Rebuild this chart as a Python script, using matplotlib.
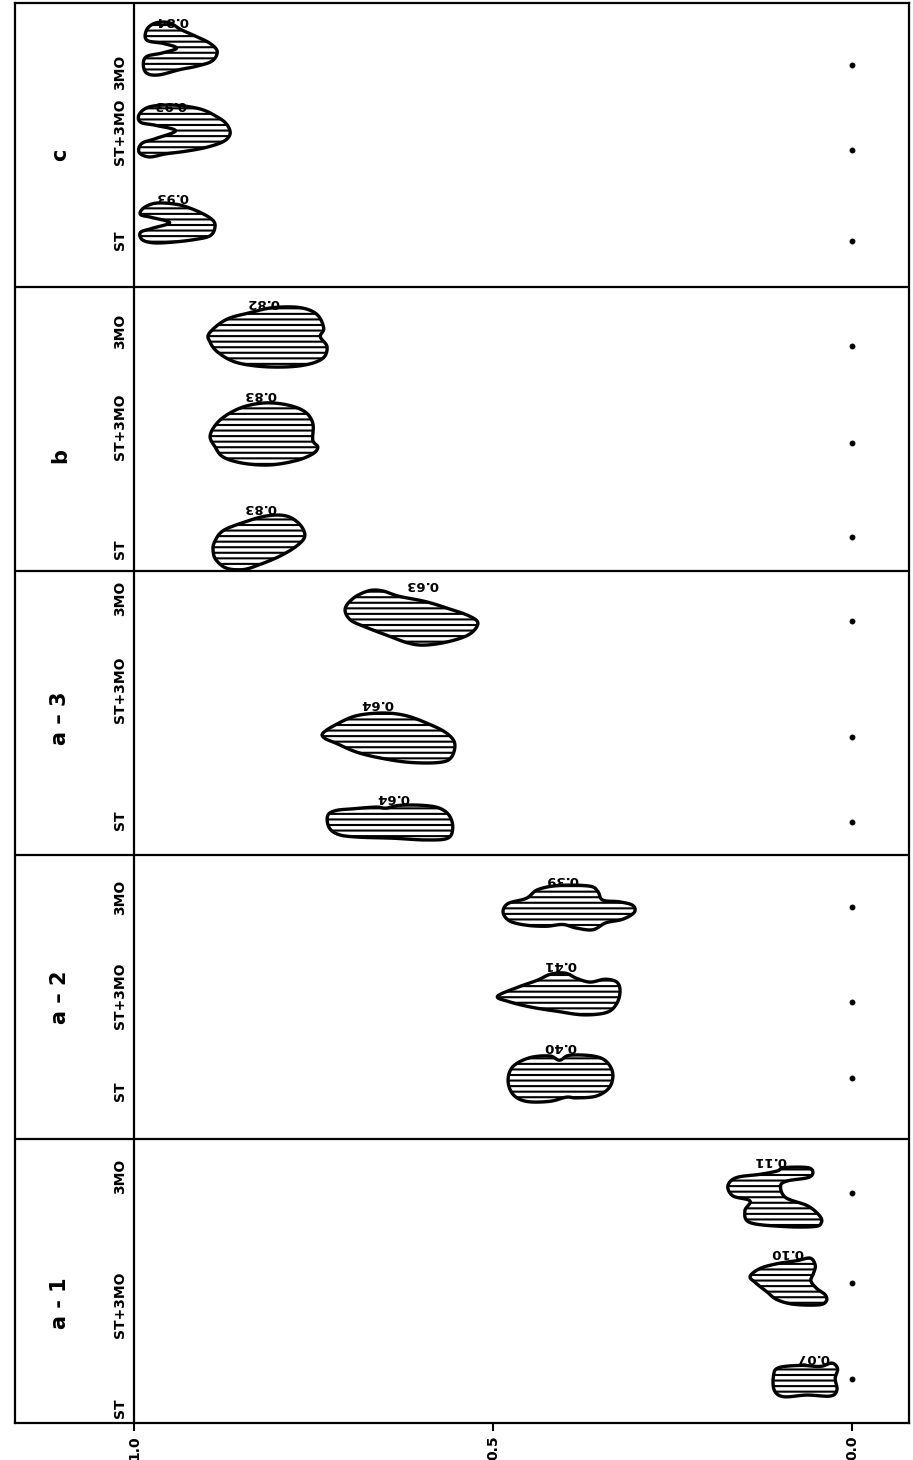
import numpy as np
import matplotlib
matplotlib.use("Agg")
import matplotlib.pyplot as plt

plt.rcParams['font.family'] = ['DejaVu Sans']
plt.rcParams['hatch.linewidth'] = 1.5

# ---------------- data ----------------
panels = ['a - 1', 'a – 2', 'a – 3', 'b', 'c']          # bottom -> top
lanes = ['ST', 'ST+3MO', '3MO']

rf_a1 = [0.07, 0.10, 0.11]
rf_a2 = [0.40, 0.41, 0.39]
rf_a3 = [0.64, 0.64, 0.63]
rf_b = [0.83, 0.83, 0.82]
rf_c = [0.93, 0.93, 0.84]
rf_values = [rf_a1, rf_a2, rf_a3, rf_b, rf_c]

# spot extents: front (high Rf edge), back (low Rf edge)
spot_front = [[0.110, 0.142, 0.173], [0.479, 0.494, 0.486], [0.731, 0.738, 0.706],
              [0.890, 0.894, 0.897], [0.992, 0.994, 0.987]]
spot_back = [[0.020, 0.035, 0.042], [0.333, 0.323, 0.302], [0.556, 0.553, 0.521],
             [0.762, 0.744, 0.731], [0.887, 0.866, 0.884]]
# vertical extents (lane units, panel i spans i..i+1)
spot_top = [[0.211, 0.581, 0.901], [1.296, 1.585, 1.894], [2.176, 2.500, 2.933],
            [3.197, 3.592, 3.930], [4.296, 4.641, 4.933]]
spot_bottom = [[0.092, 0.415, 0.690], [1.130, 1.437, 1.736], [2.053, 2.324, 2.739],
               [3.004, 3.373, 3.718], [4.155, 4.458, 4.746]]

label_rf = [[0.054, 0.090, 0.114], [0.407, 0.407, 0.404], [0.639, 0.662, 0.599],
            [0.825, 0.825, 0.820], [0.947, 0.950, 0.947]]
label_y = [[0.232, 0.602, 0.926], [1.324, 1.613, 1.912], [2.204, 2.532, 2.951],
           [3.222, 3.620, 3.947], [4.320, 4.644, 4.940]]

origin_y = [[0.155, 0.493, 0.810], [1.215, 1.482, 1.817], [2.116, 2.415, 2.824],
            [3.120, 3.451, 3.792], [4.162, 4.482, 4.782]]
lane_label_y = [[0.053, 0.415, 0.870], [1.169, 1.504, 1.852], [2.123, 2.581, 2.905],
                [3.077, 3.507, 3.842], [4.165, 4.546, 4.757]]
title_y = [0.423, 1.500, 2.482, 3.408, 4.465]

tick_values = [1.0, 0.5, 0.0]
tick_labels = ['1.0', '0.5', '0.0']

# spot outline templates (normalised by their own bounding box)
shapes = [
    [  # a-1
        [(235, 712), (300, 705), (360, 708), (395, 698), (412, 715), (405, 745), (410, 780),
         (390, 798), (320, 795), (250, 800), (222, 780), (220, 735)],
        [(150, 430), (180, 405), (230, 390), (290, 380), (330, 372), (345, 395), (340, 420),
         (332, 445), (350, 470), (375, 490), (378, 510), (355, 522), (280, 520), (230, 505),
         (200, 480), (165, 450)],
        [(230, 125), (250, 115), (320, 115), (335, 130), (320, 145), (260, 155), (240, 170),
         (255, 205), (320, 230), (355, 260), (360, 280), (340, 292), (250, 292), (150, 280),
         (135, 245), (150, 215), (100, 200), (85, 170), (110, 145), (180, 135)],
    ],
    [  # a-2
        [(175, 690), (190, 650), (240, 625), (300, 620), (330, 632), (360, 618), (430, 620),
         (470, 635), (490, 670), (480, 710), (440, 735), (380, 740), (350, 738), (300, 750),
         (230, 750), (190, 730)],
        [(140, 440), (200, 415), (260, 395), (300, 378), (345, 375), (380, 390), (420, 400),
         (465, 392), (500, 400), (510, 425), (500, 460), (470, 485), (400, 492), (320, 482),
         (240, 470), (175, 455)],
        [(160, 185), (175, 160), (230, 145), (265, 120), (330, 108), (420, 110), (445, 125),
         (460, 150), (510, 155), (550, 165), (555, 185), (520, 205), (470, 215), (430, 235),
         (380, 230), (340, 220), (290, 225), (230, 222), (180, 210)],
    ],
    [  # a-3
        [(85, 770), (110, 755), (160, 750), (230, 745), (260, 748), (300, 740), (370, 740),
         (420, 748), (450, 770), (460, 805), (445, 835), (380, 840), (280, 835), (180, 832),
         (120, 825), (90, 805)],
        [(70, 520), (110, 495), (170, 470), (250, 462), (320, 470), (390, 495), (440, 520),
         (465, 550), (455, 590), (420, 605), (330, 605), (240, 592), (170, 575), (110, 550),
         (75, 535)],
        [(140, 150), (165, 120), (210, 100), (250, 100), (300, 115), (380, 130), (450, 150),
         (510, 170), (535, 190), (510, 220), (450, 240), (380, 250), (330, 245), (270, 225),
         (200, 200), (155, 180)],
    ],
    [  # b
        [(345, 790), (370, 755), (430, 730), (500, 710), (560, 710), (600, 735), (615, 770),
         (590, 800), (540, 830), (480, 855), (430, 870), (380, 865), (350, 840), (342, 815)],
        [(330, 465), (360, 420), (420, 385), (490, 370), (560, 375), (615, 395), (640, 430),
         (640, 480), (655, 500), (640, 520), (590, 540), (510, 553), (430, 548), (370, 530),
         (345, 500)],
        [(330, 160), (380, 120), (450, 100), (520, 85), (600, 85), (650, 105), (670, 145),
         (660, 170), (680, 200), (665, 235), (600, 255), (500, 258), (410, 245), (355, 215),
         (332, 185)],
    ],
    [  # c
        [(430, 615), (470, 600), (540, 605), (600, 625), (645, 650), (655, 672), (640, 700),
         (590, 712), (520, 720), (460, 722), (425, 712), (420, 690), (455, 678), (512, 660),
         (455, 644), (420, 635)],
        [(420, 360), (450, 340), (520, 335), (600, 345), (650, 365), (680, 385), (690, 410),
         (670, 430), (620, 445), (560, 455), (500, 462), (450, 470), (420, 458), (428, 435),
         (470, 422), (528, 402), (470, 388), (425, 380)],
        [(445, 95), (470, 76), (510, 75), (545, 95), (590, 115), (630, 135), (650, 158),
         (635, 185), (590, 200), (540, 210), (480, 225), (445, 220), (435, 195), (445, 172),
         (490, 162), (532, 148), (495, 135), (445, 125)],
    ],
]


def smooth_closed(pts, n=14):
    P = np.asarray(pts, dtype=float)
    N = len(P)
    t = np.linspace(0, 1, n, endpoint=False)[:, None]
    out = []
    for i in range(N):
        p0, p1, p2, p3 = P[i - 1], P[i], P[(i + 1) % N], P[(i + 2) % N]
        out.append(0.5 * ((2 * p1) + (-p0 + p2) * t + (2 * p0 - 5 * p1 + 4 * p2 - p3) * t ** 2
                          + (-p0 + 3 * p1 - 3 * p2 + p3) * t ** 3))
    c = np.vstack(out)
    return np.vstack([c, c[:1]])


# ---------------- figure ----------------
W, H = 913, 1460
fig = plt.figure(figsize=(W / 100, H / 100), dpi=100)
ax = fig.add_axes([15 / W, 1 - 1423 / H, (909 - 15) / W, (1423 - 3) / H])
ax.set_xlim(1.1657, -0.0794)
ax.set_ylim(0, 5)
for s in ax.spines.values():
    s.set_linewidth(1.6)
ax.set_yticks([])
ax.set_xticks(tick_values)
ax.set_xticklabels(tick_labels, rotation=90, fontsize=10, fontweight='bold')
ax.tick_params(axis='x', direction='out', length=6, width=1.5, pad=3)

# panel separators and lane-label strip divider
for k in range(1, len(panels)):
    ax.axhline(k, color='black', lw=1.6)
ax.axvline(1.0, color='black', lw=1.6)

for p in range(len(panels)):
    ax.text(1.103, title_y[p], panels[p], rotation=90, ha='center', va='center',
            fontsize=15, fontweight='bold')
    for j, lane in enumerate(lanes):
        ax.text(1.0195, lane_label_y[p][j], lane, rotation=90, ha='center', va='center',
                fontsize=10, fontweight='bold')
        # spot
        c = smooth_closed(shapes[p][j])
        u = (c[:, 0] - c[:, 0].min()) / (c[:, 0].max() - c[:, 0].min())
        v = (c[:, 1] - c[:, 1].min()) / (c[:, 1].max() - c[:, 1].min())
        xs = spot_front[p][j] + u * (spot_back[p][j] - spot_front[p][j])
        ys = spot_top[p][j] + v * (spot_bottom[p][j] - spot_top[p][j])
        ax.fill(xs, ys, facecolor='white', edgecolor='black', hatch='---', linewidth=2.4,
                joinstyle='round')
        # Rf value label (upside down)
        ax.text(label_rf[p][j], label_y[p][j], f'{rf_values[p][j]:.2f}', rotation=180,
                ha='center', va='center', fontsize=9.5, fontweight='bold')
        # origin point
        ax.plot([0.0], [origin_y[p][j]], 'o', color='black', markersize=3.2)

fig.savefig('out.png', dpi=100, facecolor='white')
